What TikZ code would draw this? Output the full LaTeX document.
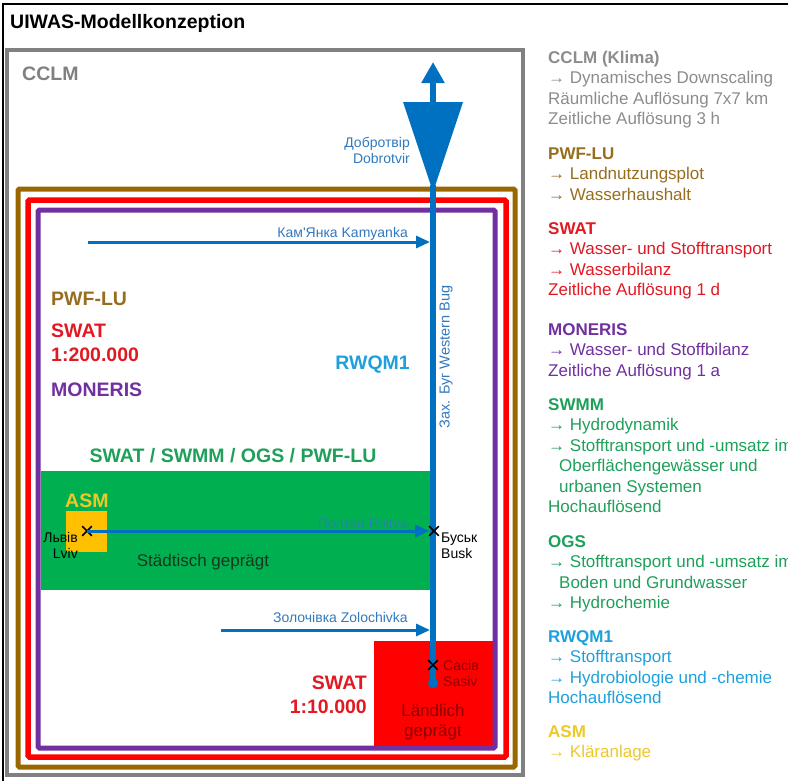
\documentclass[tikz,border=0pt]{standalone}
\usepackage{fontspec}
\setmainfont{Liberation Sans}
\usetikzlibrary{arrows.meta,shapes.misc}

\definecolor{cclmgrey}{RGB}{128,128,128}
\definecolor{cclmtext}{RGB}{140,140,140}
\definecolor{pwfbrown}{RGB}{153,102,0}
\definecolor{pwftext}{RGB}{150,110,30}
\definecolor{swatred}{RGB}{255,0,0}
\definecolor{swattext}{RGB}{225,25,35}
\definecolor{monpurple}{RGB}{112,48,160}
\definecolor{urbgreen}{RGB}{0,176,80}
\definecolor{ogstext}{RGB}{30,160,90}
\definecolor{asmorange}{RGB}{255,192,0}
\definecolor{asmtext}{RGB}{238,200,40}
\definecolor{rwqmblue}{RGB}{30,160,220}
\definecolor{riverblue}{RGB}{0,112,192}
\definecolor{rivertext}{RGB}{50,120,190}
\definecolor{poltext}{RGB}{40,130,175}
\definecolor{ruraltext}{RGB}{140,0,0}
\definecolor{urbantext}{RGB}{25,55,30}

\begin{document}
\begin{tikzpicture}[x=1pt,y=-1pt]
\useasboundingbox (0,0) rectangle (788,780);
\clip (0,0) rectangle (788,780);

% Frame and title
\draw [line width=2pt] (3,4) rectangle (800,800);
\node (title) at (10,28) [anchor=base west, inner sep=0pt,
    font=\fontsize{19.5}{22}\selectfont\bfseries] {UIWAS-Modellkonzeption};

% Areas
\fill [urbgreen] (40.5,471) rectangle (431,590);
\fill [swatred] (374,641) rectangle (492.5,745.5);
\fill [asmorange] (66,511) rectangle (107,552);

% Model rectangles
\draw [cclmgrey, line width=3.5pt] (7,50) rectangle (523,775);
\draw [pwfbrown, line width=5pt, rounded corners=1.5pt] (18,189) rectangle (515,767);
\draw [swatred, line width=5.5pt, rounded corners=1.5pt] (28,200) rectangle (506,757);
\draw [monpurple, line width=5pt, rounded corners=1.5pt] (38,210) rectangle (495,748);

\begin{scope}[every node/.style={anchor=base west, inner sep=0pt,
    font=\fontsize{19.5}{22}\selectfont\bfseries}]
    \node (cclm) at (22,80) [text=cclmgrey] {CCLM};
    \node (pwf) at (51,305) [text=pwftext] {PWF-LU};
    \node (swat) at (51,337) [text=swattext] {SWAT};
    \node (swatScale) at (51,361) [text=swattext] {1:200.000};
    \node (moneris) at (51,396) [text=monpurple] {MONERIS};
    \node (rwqm) at (410,369) [anchor=base east, text=rwqmblue] {RWQM1};
    \node (coupled) at (233,462) [anchor=base, text=ogstext] {SWAT / SWMM / OGS / PWF-LU};
    \node (asm) at (65,507) [text=asmtext] {ASM};
    \node (swatFine) at (367,689) [anchor=base east, text=swattext] {SWAT};
    \node (swatFineScale) at (367,713) [anchor=base east, text=swattext] {1:10.000};
\end{scope}

% River Western Bug
\coordinate (mouthTip) at (433,62);
\coordinate (funnelTop) at (433,102);
\coordinate (funnelL) at (403,102);
\coordinate (funnelR) at (463,102);
\coordinate (funnelApex) at (433,192);
\fill [riverblue] (funnelL) -- (funnelR) -- (funnelApex) -- cycle;
\draw [riverblue, line width=5.5pt, -{Triangle[length=21pt,width=22pt]}] (funnelTop) -- (mouthTip);

\node (sasivDot) at (433,683) [circle, fill=riverblue, minimum size=10pt, inner sep=0pt] {};
\draw [riverblue, line width=5.5pt] (433,185) -- (sasivDot.center);

\tikzset{CrossMark/.style={cross out, draw=black, line width=1.6pt, minimum size=8pt, inner sep=0pt}}
\tikzset{Tributary/.style={riverblue, line width=3pt, -{Triangle[length=14pt,width=12pt]}}}

\node (lvivX) at (87,531) [CrossMark] {};
\node (buskX) at (434,531) [CrossMark] {};
\node (sasivX) at (433,665) [CrossMark] {};

\coordinate (kamSrc) at (88,242);
\coordinate (kamMouth) at (430,242);
\coordinate (zolSrc) at (221,630);
\coordinate (zolMouth) at (430,630);

\draw [Tributary] (kamSrc) -- (kamMouth);
\draw [Tributary] (lvivX.center) -- (buskX);
\draw [Tributary] (zolSrc) -- (zolMouth);

\begin{scope}[every node/.style={anchor=base east, inner sep=0pt,
    font=\fontsize{14}{16}\selectfont, text=rivertext}]
    \node (dobroCyr) at (410,147) {Добротвір};
    \node (dobroLat) at (410,163) {Dobrotvir};
    \node (kamLabel) at (408,237) {Кам\textquotesingle Янка Kamyanka};
    \node (polLabel) at (408,528) [text=poltext] {Полтва Poltva};
    \node (zolLabel) at (408,622) {Золочівка Zolochivka};
    \node (bugLabel) at (446,357) [anchor=center, rotate=90,
        font=\fontsize{14.5}{16}\selectfont] {Зах. Буг Western Bug};
    \node (lvivCyr) at (78,542) [text=black] {Львів};
    \node (lvivLat) at (78,558) [text=black] {Lviv};
    \node (buskCyr) at (441,542) [anchor=base west, text=black] {Буськ};
    \node (buskLat) at (441,558) [anchor=base west, text=black] {Busk};
    \node (sasivCyr) at (443,670) [anchor=base west, text=ruraltext] {Сасів};
    \node (sasivLat) at (443,686) [anchor=base west, text=ruraltext] {Sasiv};
\end{scope}

\begin{scope}[every node/.style={anchor=base, inner sep=0pt,
    font=\fontsize{17}{20}\selectfont}]
    \node (urban) at (203,566) [text=urbantext] {Städtisch geprägt};
    \node (ruralA) at (433,716) [text=ruraltext] {Ländlich};
    \node (ruralB) at (433,736) [text=ruraltext] {geprägt};
\end{scope}

% Legend column (anchored at the baseline of each block's last line)
\begin{scope}[every node/.style={anchor=base west, inner sep=0pt, align=left,
    font=\fontsize{17}{20.5}\selectfont}]
    \node (legCclm) at (548,124.5) [text=cclmtext]
        {\textbf{CCLM (Klima)}\\→ Dynamisches Downscaling\\Räumliche Auflösung 7x7 km\\Zeitliche Auflösung 3 h};
    \node (legPwf) at (548,200) [text=pwftext]
        {\textbf{PWF-LU}\\→ Landnutzungsplot\\→ Wasserhaushalt};
    \node (legSwat) at (548,295.5) [text=swattext]
        {\textbf{SWAT}\\→ Wasser- und Stofftransport\\→ Wasserbilanz\\Zeitliche Auflösung 1 d};
    \node (legMoneris) at (548,376) [text=monpurple]
        {\textbf{MONERIS}\\→ Wasser- und Stoffbilanz\\Zeitliche Auflösung 1 a};
    \node (legSwmm) at (548,512.5) [text=ogstext]
        {\textbf{SWMM}\\→ Hydrodynamik\\→ Stofftransport und -umsatz im\\\hspace*{11pt}Oberflächengewässer und\\\hspace*{11pt}urbanen Systemen\\Hochauflösend};
    \node (legOgs) at (548,608.5) [text=ogstext]
        {\textbf{OGS}\\→ Stofftransport und -umsatz im\\\hspace*{11pt}Boden und Grundwasser\\→ Hydrochemie};
    \node (legRwqm) at (548,703.5) [text=rwqmblue]
        {\textbf{RWQM1}\\→ Stofftransport\\→ Hydrobiologie und -chemie\\Hochauflösend};
    \node (legAsm) at (548,757.5) [text=asmtext]
        {\textbf{ASM}\\→ Kläranlage};
\end{scope}

\end{tikzpicture}
\end{document}
